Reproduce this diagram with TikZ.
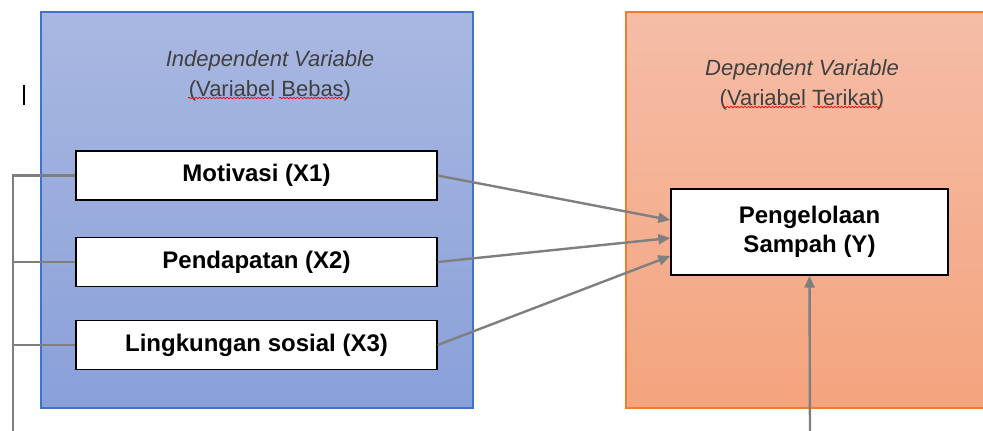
\documentclass[tikz,border=0pt]{standalone}
\usepackage{fontspec}
\setmainfont{Liberation Sans}
\usetikzlibrary{arrows.meta,decorations.pathmorphing}

\definecolor{biruatas}{HTML}{A9B8E1}
\definecolor{birubawah}{HTML}{8AA0D9}
\definecolor{birugaris}{HTML}{4472C4}
\definecolor{oranyeatas}{HTML}{F5BDA7}
\definecolor{oranyebawah}{HTML}{F4A47E}
\definecolor{oranyegaris}{HTML}{ED7D31}
\definecolor{abu}{HTML}{7F7F7F}
\definecolor{teksjudul}{HTML}{404040}

\begin{document}
\begin{tikzpicture}[x=0.75pt,y=-0.75pt,
        varbox/.style={draw=black,fill=white,line width=1pt,minimum width=270.75pt,minimum height=36.75pt,
            inner sep=0pt,font=\bfseries\fontsize{18}{21}\selectfont},
        garis/.style={draw=abu,line width=1.8pt},
        panah/.style={garis,-{Triangle[length=9pt,width=7.5pt]}},
        judul/.style={align=center,text=teksjudul,font=\itshape\fontsize{16.5}{22.5}\selectfont},
        salah/.style={draw=red,line width=0.5pt,decorate,decoration={snake,segment length=2.6pt,amplitude=0.6pt}}]
    \useasboundingbox (0,0) rectangle (983,430);

    % kotak variabel bebas dan terikat
    \shade[top color=biruatas,bottom color=birubawah] (41,12) rectangle (473,408);
    \draw[birugaris,line width=0.8pt] (41,12) rectangle (473,408);
    \shade[top color=oranyeatas,bottom color=oranyebawah] (626,12) rectangle (995,408);
    \draw[oranyegaris,line width=0.8pt] (995,12) -- (626,12) -- (626,408) -- (995,408);

    \node[judul] (bebas) at (270,75.5) {Independent Variable\\\upshape(Variabel Bebas)};
    \node[judul] (terikat) at (802,85) {Dependent Variable\\\upshape(Variabel Terikat)};

    \draw[salah] (188,98) -- (273,98);
    \draw[salah] (279,98) -- (345,98);
    \draw[salah] (723,107) -- (806,107);
    \draw[salah] (813,107) -- (882,107);

    \draw[black,line width=0.8pt] (24,85) -- (24,105);

    \node[varbox] (motivasi) at (256.5,175.5) {Motivasi (X1)};
    \node[varbox] (pendapatan) at (256.5,262) {Pendapatan (X2)};
    \node[varbox] (lingkungan) at (256.5,345) {Lingkungan sosial (X3)};
    \node[varbox,minimum width=207.75pt,minimum height=64.5pt,align=center,font=\bfseries\fontsize{18}{21.5}\selectfont]
        (sampah) at (809.5,232) {Pengelolaan\\Sampah (Y)};

    \coordinate (kiri) at (13,432);
    \coordinate (bawah) at (810,432);

    \draw[garis] (kiri) |- (motivasi.west);
    \draw[garis] (kiri) |- (pendapatan.west);
    \draw[garis] (kiri) |- (lingkungan.west);

    \draw[panah] (motivasi.east) -- ([yshift=9pt]sampah.west);
    \draw[panah] (pendapatan.east) -- ([yshift=-4.5pt]sampah.west);
    \draw[panah] (lingkungan.east) -- ([yshift=-18pt]sampah.west);
    \draw[panah] (bawah) -- (sampah.south);
\end{tikzpicture}
\end{document}
